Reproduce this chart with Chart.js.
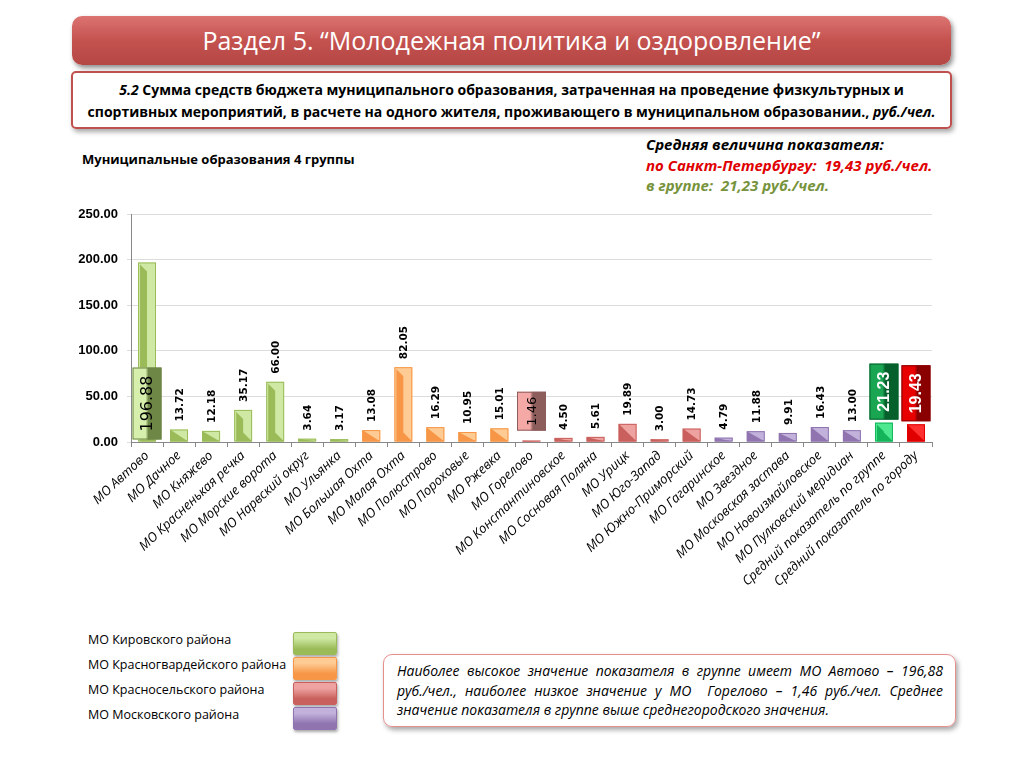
<!DOCTYPE html>
<html lang="ru">
<head>
<meta charset="utf-8">
<script src="https://cdn.jsdelivr.net/npm/chart.js@4.4.1/dist/chart.umd.min.js"></script>
<style>
  body { margin: 0; width: 1024px; height: 768px; background: #fff; font-family: "Open Sans", sans-serif; position: relative; overflow: hidden; }
  .abs { position: absolute; }
  .nw { white-space: nowrap; }
  #banner { left: 72px; top: 16px; width: 879px; height: 49px; border-radius: 10px;
    background: linear-gradient(#dc7472, #c4524f 50%, #b44644); box-shadow: 2px 3px 5px rgba(0,0,0,.45);
    color: #fff; font-size: 25px; text-align: center; line-height: 48px; }
  #sub { left: 71px; top: 71px; width: 877px; border: 2px solid #c0504d; border-radius: 5px;
    box-shadow: 2px 3px 5px rgba(0,0,0,.35); font-weight: bold; font-size: 14px; text-align: center;
    line-height: 22px; padding-top: 6px; height: 48px; }
  #grp { left: 82px; top: 150px; font-weight: bold; font-size: 13px; }
  #avg { left: 646px; top: 134px; font-weight: bold; font-style: italic; font-size: 15px; line-height: 20.5px; }
  #chartBox { left: 60px; top: 204px; width: 890px; height: 420px; }
  .leg { left: 88px; font-size: 12.5px; }
  .sw { left: 293px; width: 42px; height: 21px; border-radius: 2px; box-shadow: 1px 2px 3px rgba(0,0,0,.35); }
  #note { left: 383px; top: 654px; width: 546px; height: 59px; border: 1px solid #e6908e; border-radius: 9px;
    box-shadow: 2px 3px 5px rgba(0,0,0,.35); padding: 6px 12px 6px 13px; font-style: italic; font-size: 14px;
    line-height: 19.5px; text-align: justify; }
</style>
</head>
<body>
<div id="banner" class="abs">Раздел 5. “Молодежная политика и оздоровление”</div>
<div id="sub" class="abs"><i>5.2</i> Сумма средств бюджета муниципального образования, затраченная на проведение физкультурных и<br>спортивных мероприятий, в расчете на одного жителя, проживающего в муниципальном образовании., <i>руб./чел.</i></div>
<div id="grp" class="abs">Муниципальные образования 4 группы</div>
<div id="avg" class="abs">Средняя величина показателя:<br><span style="color:#e00000">по Санкт-Петербургу:&nbsp; 19,43 руб./чел.</span><br><span style="color:#77933c">в группе:&nbsp; 21,23 руб./чел.</span></div>
<div id="chartBox" class="abs"><canvas id="chart"></canvas></div>
<div id="note" class="abs">Наиболее высокое значение показателя в группе имеет МО Автово – 196,88 <span class="nw">руб./чел.,</span> наиболее низкое значение у МО&nbsp; Горелово – 1,46 <span class="nw">руб./чел.</span> Среднее значение показателя в группе выше среднегородского значения.</div>
<script>
/* ---- data ---- */
const categories = [
  "МО Автово", "МО Дачное", "МО Княжево", "МО Красненькая речка", "МО Морские ворота",
  "МО Нарвский округ", "МО Ульянка", "МО Большая Охта", "МО Малая Охта", "МО Полюстрово",
  "МО Пороховые", "МО Ржевка", "МО Горелово", "МО Константиновское", "МО Сосновая Поляна",
  "МО Урицк", "МО Юго-Запад", "МО Южно-Приморский", "МО Гагаринское", "МО Звездное",
  "МО Московская застава", "МО Новоизмайловское", "МО Пулковский меридиан",
  "Средний показатель по группе", "Средний показатель по городу"
];
const values = [
  196.88, 13.72, 12.18, 35.17, 66.00, 3.64, 3.17,
  13.08, 82.05, 16.29, 10.95, 15.01,
  1.46, 4.50, 5.61, 19.89, 3.00, 14.73,
  4.79, 11.88, 9.91, 16.43, 13.00,
  21.23, 19.43
];
const districts = [
  "kir", "kir", "kir", "kir", "kir", "kir", "kir",
  "krg", "krg", "krg", "krg", "krg",
  "krs", "krs", "krs", "krs", "krs", "krs",
  "msk", "msk", "msk", "msk", "msk",
  "grp", "city"
];
const legendNames = ["МО Кировского района", "МО Красногвардейского района", "МО Красносельского района", "МО Московского района"];
const legendKeys = ["kir", "krg", "krs", "msk"];
const yTicks = [0, 50, 100, 150, 200, 250];

/* ---- colours ---- */
const palette = {
  kir:  { light: "#cfe9a4", dark: "#9bbb59" },
  krg:  { light: "#fdcb93", dark: "#f79646" },
  krs:  { light: "#eea3a1", dark: "#c9605d" },
  msk:  { light: "#c2b2db", dark: "#8f74b0" },
  grp:  { light: "#4ee891", dark: "#14b45a" },
  city: { light: "#ff3030", dark: "#e00000" }
};
// highlighted labels drawn in boxes
const boxed = {
  0:  { place: "base", gap: 2,  pad: 8, c1: "#d6efac", c2: "#6e8646", text: "#000", font: "16px 'DejaVu Sans'" },
  12: { place: "top",  gap: 10, pad: 5, c1: "#f5a9a7", c2: "#8d5d5b", text: "#000", font: "13px 'DejaVu Sans'" },
  23: { place: "top",  gap: 3,  pad: 8, c1: "#1aa553", c2: "#05602c", text: "#fff", font: "bold 16px 'Liberation Sans'" },
  24: { place: "top",  gap: 3,  pad: 8, c1: "#e80000", c2: "#8a0000", text: "#fff", font: "bold 16px 'Liberation Sans'" }
};

/* legend */
const legendTops = [632, 657, 682, 707];
legendNames.forEach((name, i) => {
  const t = document.createElement("div");
  t.className = "abs leg";
  t.style.top = (legendTops[i] - 1) + "px";
  t.textContent = name;
  document.body.appendChild(t);
  const s = document.createElement("div");
  s.className = "abs sw";
  s.style.top = legendTops[i] + "px";
  const p = palette[legendKeys[i]];
  s.style.background = "linear-gradient(" + p.light + " 0%, " + p.light + " 25%, " + p.dark + " 75%, " + p.dark + " 100%)";
  s.style.border = "1px solid " + p.dark;
  document.body.appendChild(s);
});

/* bevel look on bars + value labels */
const barDecor = {
  id: "barDecor",
  afterDatasetsDraw(chart) {
    const ctx = chart.ctx;
    const meta = chart.getDatasetMeta(0);
    ctx.save();
    meta.data.forEach((bar, i) => {
      const { x, y, base, width } = bar.getProps(["x", "y", "base", "width"], true);
      const l = x - width / 2, r = x + width / 2, t = y, b = base;
      const w = r - l, h = b - t;
      const p = palette[districts[i]];
      ctx.fillStyle = p.dark;
      ctx.beginPath();
      if (h <= w) {
        ctx.moveTo(l, t); ctx.lineTo(r, b); ctx.lineTo(l, b);
      } else {
        const d = w * 0.5;
        ctx.moveTo(l + 2, t + 2); ctx.lineTo(l + d, t + d); ctx.lineTo(l + d, b - (w - d)); ctx.lineTo(r, b); ctx.lineTo(l + 2, b);
      }
      ctx.closePath();
      ctx.fill();
      ctx.strokeStyle = p.dark;
      ctx.lineWidth = 1;
      ctx.strokeRect(l + 0.5, t + 0.5, w - 1, h - 1);
    });

    meta.data.forEach((bar, i) => {
      const { x, y, base } = bar.getProps(["x", "y", "base"], true);
      const txt = values[i].toFixed(2);
      const bx = boxed[i];
      if (!bx) {
        ctx.save();
        ctx.translate(x, y - 8);
        ctx.rotate(-Math.PI / 2);
        ctx.font = "bold 10.5px 'DejaVu Sans'";
        ctx.fillStyle = "#000";
        ctx.textAlign = "left";
        ctx.textBaseline = "middle";
        ctx.fillText(txt, 0, 1);
        ctx.restore();
        return;
      }
      ctx.font = bx.font;
      const tw = ctx.measureText(txt).width;
      const bw = 29, bh = tw + bx.pad * 2;
      const bottom = (bx.place === "base" ? base : y) - bx.gap;
      const left = x - bw / 2, top = bottom - bh;
      const g = ctx.createLinearGradient(left, 0, left + bw, 0);
      g.addColorStop(0, bx.c1);
      g.addColorStop(0.45, bx.c1);
      g.addColorStop(0.55, bx.c2);
      g.addColorStop(1, bx.c2);
      ctx.fillStyle = g;
      ctx.fillRect(left, top, bw, bh);
      ctx.strokeStyle = bx.c2;
      ctx.strokeRect(left + 0.5, top + 0.5, bw - 1, bh - 1);
      ctx.save();
      ctx.translate(x, bottom - bx.pad);
      ctx.rotate(-Math.PI / 2);
      ctx.fillStyle = bx.text;
      ctx.textAlign = "left";
      ctx.textBaseline = "middle";
      ctx.fillText(txt, 0, 1);
      ctx.restore();
    });
    ctx.restore();
  }
};

new Chart(document.getElementById("chart"), {
  type: "bar",
  data: {
    labels: categories,
    datasets: [{
      data: values,
      backgroundColor: districts.map(d => palette[d].light),
      borderWidth: 0,
      barPercentage: 0.56,
      categoryPercentage: 1
    }]
  },
  options: {
    responsive: true,
    maintainAspectRatio: false,
    animation: false,
    layout: { padding: { top: 10, right: 18, left: 0, bottom: 0 } },
    plugins: { legend: { display: false }, tooltip: { enabled: false } },
    scales: {
      x: {
        afterFit(scale) { scale.height = 182; scale.paddingLeft = 0; scale.paddingRight = 0; },
        grid: { drawOnChartArea: false, drawTicks: true, tickLength: 5, color: "#888", offset: true },
        border: { color: "#888" },
        ticks: {
          autoSkip: false, minRotation: 43, maxRotation: 43, padding: 1,
          color: "#000", font: { family: "'Open Sans'", size: 13, style: "italic" }
        }
      },
      y: {
        min: 0, max: 250,
        afterFit(scale) { scale.width = 71; scale.paddingTop = 0; scale.paddingBottom = 0; },
        afterBuildTicks(scale) { scale.ticks = yTicks.map(v => ({ value: v })); },
        grid: { color: "#dcdcdc", tickLength: 4, drawTicks: true },
        border: { color: "#888" },
        ticks: {
          padding: 9, color: "#000",
          font: { family: "'Liberation Sans'", size: 13, weight: "bold" },
          callback: v => Number(v).toFixed(2)
        }
      }
    }
  },
  plugins: [barDecor]
});
</script>
</body>
</html>
